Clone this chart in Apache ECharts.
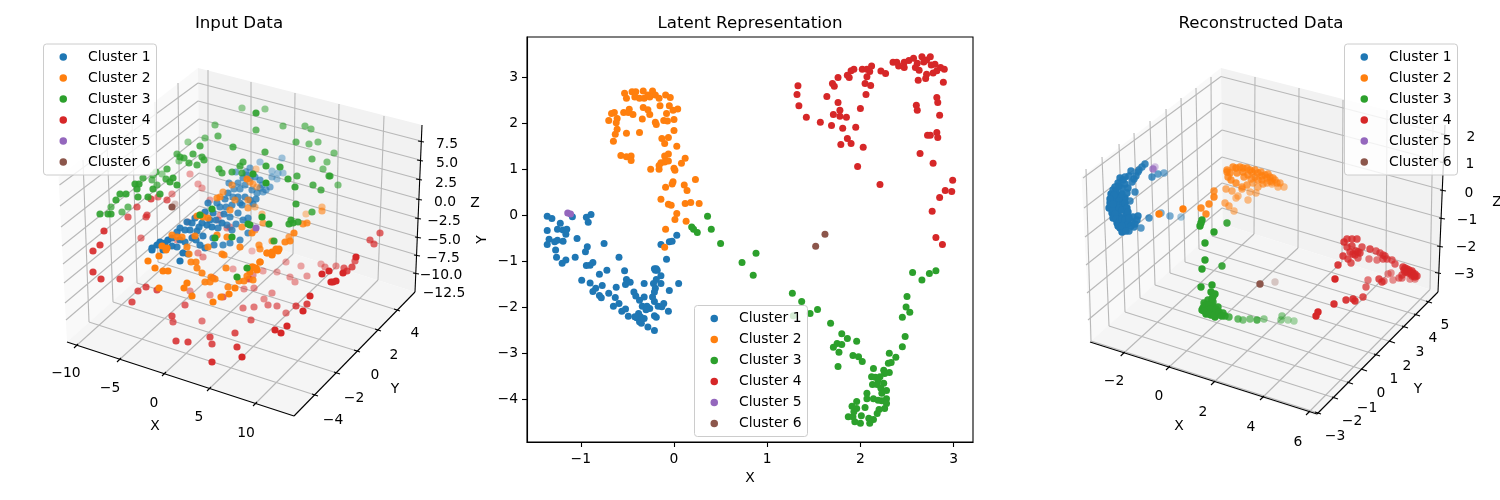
<!DOCTYPE html>
<html><head><meta charset="utf-8">
<style>html,body{margin:0;padding:0;background:#fff}#c{width:1500px;height:500px}</style>
<script src="https://cdn.jsdelivr.net/npm/echarts@6/dist/echarts.min.js"></script>
</head><body><div id="c"></div>
<script>
const clusterNames=['Cluster 1','Cluster 2','Cluster 3','Cluster 4','Cluster 5','Cluster 6'];
const clusterColors=['#1f77b4','#ff7f0e','#2ca02c','#d62728','#9467bd','#8c564b'];
const FONT='"DejaVu Sans"';

/* ---------- Latent Representation: x, y values ---------- */
const latent1=[[-1.36,-.02],[-1.31,-.07],[-1.09,-.03],[-.94,-.04],[-.89,.02],[-.92,-.15],[-1.22,-.17],[-1.25,-.3],[-1.36,-.33],[-1.19,-.32],[-1.15,-.3],[-1.16,-.41],[-1.04,-.5],[-1.34,-.52],[-1.36,-.63],[-1.28,-.57],[-1.25,-.54],[-1.19,-.56],[-.75,-.61],[-.93,-.68],[-.95,-.79],[-1.27,-.75],[-1.26,-.91],[-1.16,-.97],[-1.2,-1.04],[-1.06,-.91],[-.59,-.91],[-.87,-1.02],[-.9,-1.08],[-.94,-1.09],[-.72,-1.19],[-.53,-1.2],[-.19,-1.16],[-.21,-1.16],[-.14,-.63],[-.05,-.57],[-.02,-.56],[.03,-.43],[-.08,-.95],[-.99,-1.41],[-.9,-1.47],[-.8,-1.28],[-.77,-1.52],[-.84,-1.58],[-.87,-1.65],[-.8,-1.74],[-.78,-1.79],[-.7,-1.69],[-.62,-1.56],[-.63,-1.78],[-.59,-1.91],[-.65,-1.97],[-.56,-2.08],[-.52,-2.03],[-.49,-2.19],[-.51,-1.39],[-.52,-1.5],[-.47,-1.45],[-.43,-1.66],[-.41,-1.75],[-.32,-1.48],[-.32,-1.77],[-.37,-1.84],[-.34,-1.97],[-.29,-1.97],[-.26,-2.02],[-.3,-2.05],[-.38,-2.13],[-.4,-2.22],[-.37,-2.31],[-.35,-2.34],[-.28,-2.42],[-.21,-2.5],[-.21,-2.18],[-.19,-2.21],[-.23,-1.77],[-.21,-1.87],[-.22,-1.48],[-.2,-1.58],[-.21,-1.66],[-.19,-1.39],[-.14,-1.31],[-.14,-1.48],[-.2,-1.19],[-.18,-1.19],[-.05,-1.63],[.05,-1.48],[-.17,-1.97],[-.13,-1.98],[-.11,-1.91],[-.06,-2.08],[-.36,-2.2],[-.42,-2.2],[-.32,-2.24]];
const latent2=[[-.53,2.65],[-.51,2.54],[-.45,2.68],[-.41,2.68],[-.42,2.57],[-.37,2.54],[-.33,2.7],[-.32,2.54],[-.28,2.61],[-.23,2.7],[-.26,2.57],[-.2,2.61],[-.16,2.54],[-.09,2.61],[-.04,2.56],[-.15,2.38],[-.05,2.38],[.04,2.31],[-.01,2.28],[-.08,2.21],[-.33,2.34],[-.28,2.29],[-.26,2.19],[-.64,2.23],[-.67,2.21],[-.54,2.23],[-.48,2.3],[-.49,2.23],[-.44,2.19],[-.7,2.06],[-.61,2.1],[-.62,2.01],[-.34,2.09],[-.2,2.02],[-.19,1.97],[-.11,2.06],[-.07,2.05],[0,2.08],[-.61,1.87],[-.63,1.76],[-.65,1.61],[-.51,1.78],[-.37,1.8],[0,1.84],[-.13,1.67],[-.06,1.69],[-.1,1.56],[.03,1.5],[-.57,1.3],[-.51,1.27],[-.46,1.29],[-.46,1.19],[-.06,1.33],[-.1,1.29],[-.06,1.18],[-.1,1.16],[-.14,1.14],[-.25,1],[-.16,1],[-.16,1.08],[0,1.02],[.01,.98],[.12,1.24],[.08,1.13],[.23,.78],[-.01,.73],[-.02,.68],[-.09,.61],[.11,.66],[.14,.54],[-.14,.35],[-.06,.24],[-.03,.22],[.12,.26],[.18,.28],[.27,.26],[.03,.04],[.01,-.09],[.13,-.13],[-.09,-.3],[-.1,-.69]];
const latent3=[[.19,-.25],[.21,-.3],[.25,-.37],[.36,-.02],[.4,-.3],[.5,-.61],[.73,-1.02],[.88,-.82],[.85,-1.3],[1.27,-1.69],[1.37,-1.87],[1.46,-2.13],[1.54,-2.04],[1.28,-2.18],[1.68,-2.34],[1.8,-2.57],[1.86,-2.67],[1.96,-2.73],[1.75,-2.78],[1.8,-2.8],[1.71,-2.86],[1.77,-2.97],[1.76,-3.28],[1.92,-3.04],[1.98,-3.07],[2.02,-3.17],[2.14,-3.32],[2.12,-3.5],[2.16,-3.51],[2.25,-3.36],[2.31,-3.41],[2.26,-3.43],[2.21,-3.5],[2.19,-3.57],[2.13,-3.67],[2.18,-3.67],[2.25,-3.64],[2.22,-3.75],[2.28,-3.8],[2.23,-3.86],[2.28,-3.98],[2.23,-4.02],[2.28,-4.08],[2.26,-4.19],[2.2,-4.21],[2.18,-4.3],[2.14,-4.43],[2.1,-4.51],[2.09,-4.4],[2.01,-4.35],[2,-4.51],[1.94,-4.48],[1.92,-4.37],[1.87,-4.37],[1.93,-4.26],[1.96,-4.19],[1.91,-4.14],[1.96,-4.04],[2.05,-4.17],[2.07,-3.86],[2.07,-3.98],[2.14,-3.98],[2.19,-4.01],[2.31,-2.99],[2.38,-3.08],[2.3,-3.21],[2.33,-3.19],[2.45,-2.85],[2.48,-2.63],[2.45,-2.21],[2.53,-2.1],[2.49,-1.99],[2.5,-1.76],[2.56,-1.24],[2.66,-1.4],[2.74,-1.26],[2.81,-1.2]];
const latent4=[[1.33,2.81],[1.32,2.62],[1.34,2.38],[1.42,2.13],[1.57,2.02],[1.69,1.95],[1.81,1.89],[1.95,1.91],[1.71,2.19],[1.78,2.28],[1.78,2.15],[1.85,2.13],[1.76,2.45],[1.64,2.58],[2,2.32],[2.06,2.62],[1.7,2.86],[1.72,2.8],[1.76,2.99],[1.86,3.04],[1.88,2.99],[1.9,3.14],[1.93,3.17],[2.02,3.17],[2.07,3.17],[2.12,3.24],[2.1,3.12],[2.07,3.01],[2.05,2.86],[2.11,2.82],[2.22,3.13],[2.27,3.08],[2.35,3.32],[2.39,3.32],[2.41,3.24],[2.47,3.32],[2.47,3.21],[2.52,3.36],[2.57,3.41],[2.59,3.21],[2.61,3.3],[2.66,3.44],[2.68,3.33],[2.71,3.37],[2.75,3.44],[2.63,3.15],[2.76,3.26],[2.8,3.28],[2.78,3.09],[2.71,3.06],[2.7,2.97],[2.62,2.93],[2.86,3.21],[2.9,3.17],[2.82,3.14],[2.89,2.89],[2.82,2.56],[2.83,2.45],[2.85,2.17],[2.6,2.39],[2.61,2.28],[2.82,1.8],[2.72,1.74],[2.75,1.74],[2.83,1.69],[2.64,1.34],[2.78,1.13],[1.86,1.67],[1.79,1.54],[1.9,1.56],[2.03,1.48],[1.97,1.06],[2.21,.67],[2.99,.76],[2.91,.54],[2.98,.52],[2.85,.39],[2.77,.09],[2.81,-.48],[2.88,-.63]];
const latent5=[[-1.14,.05],[-1.11,.03]];
const latent6=[[1.62,-.41],[1.52,-.67]];
const latentXTicks=[-1,0,1,2,3];
const latentYTicks=[-4,-3,-2,-1,0,1,2,3];

/* ---------- Input Data: projected positions on the 3D view, with depth fade ---------- */
const input1=[[183,253,1],[180,261,1],[188,254,.9],[152,250,1],[247,175,.6],[243,178,.7],[240,189,.7],[234,189,.7],[245,185,.7],[228,193,.8],[245,197,.8],[225,199,.8],[242,205,.8],[220,207,.8],[217,203,.8],[205,212,.9],[213,213,.9],[230,217,.8],[222,223,.9],[227,225,.8],[238,213,.8],[248,218,.8],[207,225,.9],[212,227,.9],[202,223,.9],[187,222,.9],[192,223,.9],[185,230,.9],[180,228,.9],[177,232,.9],[168,240,1],[165,243,1],[160,242,1],[157,245,1],[152,248,1],[192,238,.9],[200,245,.9],[205,248,.9],[185,242,.9],[177,247,.9],[223,245,.8],[232,230,.8],[240,240,.8],[248,233,.8],[260,162,.4],[282,158,.4],[272,171,.4],[278,173,.4],[283,173,.4],[272,177,.5],[277,179,.4],[250,168,.6],[255,177,.7],[260,180,.7],[262,185,.6],[270,187,.6],[266,190,.6],[263,192,.6],[260,188,.6],[250,200,.8],[256,199,.8],[253,204,.8],[236,172,.6],[229,183,.7],[238,197,.8],[232,205,.8],[224,214,.85],[216,220,.85],[197,231,.9],[203,236,.9],[213,238,.85],[172,246,.95],[195,218,.9],[208,203,.85],[246,172,.6],[250,178,.6],[238,183,.7],[233,197,.75],[240,203,.8],[226,207,.8],[210,220,.9],[199,227,.9],[218,228,.85],[190,230,.9],[196,240,.9],[172,238,.95],[180,240,.95],[163,250,1],[236,224,.8],[243,220,.8],[214,245,.85],[230,243,.8],[257,193,.7],[252,190,.7]];
const input2=[[256,169,.4],[253,184,.6],[257,187,.5],[255,207,.5],[262,214,.5],[263,223,.7],[322,207,.5],[322,211,.6],[306,214,.4],[303,224,.8],[307,223,.8],[294,233,.9],[289,237,.7],[290,241,.9],[285,242,.9],[272,241,.7],[255,230,.7],[252,233,.9],[259,245,.8],[260,249,.8],[267,253,.9],[272,252,1],[272,255,1],[279,249,1],[276,249,1],[260,262,1],[252,267,1],[257,270,1],[250,272,1],[247,179,.9],[250,182,.6],[232,185,.7],[235,200,.7],[217,198,.8],[223,192,.7],[230,210,.8],[200,215,.9],[197,216,.9],[208,218,.9],[203,217,.9],[242,227,.8],[248,200,.7],[248,208,.7],[227,237,.9],[217,235,.9],[208,247,.9],[187,247,.9],[177,237,.9],[172,235,.9],[182,237,.9],[162,246,1],[167,248,1],[195,236,.9],[240,247,.9],[220,197,.8],[148,261,1],[159,256,1],[155,268,1],[163,271,1],[168,271,1],[189,254,.9],[191,262,.9],[196,262,.9],[197,268,.9],[202,273,.9],[166,250,1],[159,288,1],[184,288,1],[187,283,1],[192,296,1],[205,282,.9],[211,277,.9],[210,282,.9],[215,279,.9],[226,268,.9],[213,302,1],[221,297,1],[229,294,1],[228,287,.9],[235,288,1],[239,281,.9],[244,281,.9],[247,276,.9],[253,267,1],[256,268,1],[260,262,1],[222,254,.9],[224,255,.9],[267,253,.9],[272,254,1],[278,251,1],[253,280,.9]];
const input3=[[242,108,.5],[215,125,.6],[218,136,.7],[205,138,.6],[188,142,.5],[200,146,.8],[233,147,.8],[177,154,.7],[180,157,.8],[193,154,.8],[202,157,.8],[204,160,.8],[179,161,.5],[184,158,.8],[189,163,.8],[197,165,.8],[167,169,.8],[156,172,.8],[153,175,.7],[162,174,.5],[219,169,.8],[222,173,.8],[232,172,.8],[240,166,.8],[243,162,.8],[242,173,.8],[143,178,.8],[152,180,.7],[166,179,.8],[173,178,.9],[170,182,.9],[177,185,.9],[135,184,.9],[139,184,.9],[137,189,.9],[153,189,.9],[157,185,.7],[120,194,.9],[126,194,.9],[160,194,.9],[148,197,.9],[138,197,.9],[116,200,.9],[111,207,.7],[128,207,.7],[100,214,.9],[108,214,.9],[111,214,.9],[122,212,.7],[200,215,1],[212,209,1],[232,237,1],[215,238,1],[248,224,1],[265,109,.5],[256,113,.9],[283,126,.6],[305,126,.6],[311,129,.6],[256,130,.7],[296,142,.7],[309,144,.6],[318,142,.6],[334,153,.6],[265,152,.8],[312,159,.7],[327,162,.6],[323,169,.6],[329,176,.8],[330,176,.8],[338,185,.6],[266,166,.9],[280,167,.9],[253,174,1],[266,183,1],[288,179,.9],[297,176,.8],[295,187,.9],[313,185,.8],[321,190,.8],[296,204,.9],[312,212,.8],[262,217,1],[269,224,1],[291,220,.9],[289,224,.9],[293,223,.9],[298,222,.9],[274,241,.9],[250,225,1],[237,277,1],[247,268,1]];
const input4=[[190,174,.4],[198,184,.4],[202,188,.4],[172,194,.5],[151,199,.8],[158,197,.6],[167,200,.7],[137,207,.7],[146,217,.7],[147,215,.7],[128,217,.7],[104,231,.9],[141,238,.6],[100,245,.9],[93,251,.9],[210,200,.4],[220,215,.4],[188,222,.5],[218,220,.5],[227,228,.5],[230,227,.5],[177,240,.5],[193,237,.5],[93,272,.9],[101,279,.9],[120,279,.8],[138,291,.8],[146,287,.8],[157,290,.8],[132,302,.8],[185,305,.7],[190,291,.5],[203,257,.5],[198,253,.5],[213,278,.7],[210,295,.5],[223,297,.7],[172,316,.8],[173,322,.7],[202,321,.6],[176,341,.85],[188,342,.85],[210,337,.8],[212,344,.8],[235,333,.8],[237,347,.9],[242,357,1],[212,362,.95],[243,308,.6],[254,307,.6],[251,320,.7],[244,289,.5],[254,288,.5],[249,279,.8],[253,275,.5],[233,269,.4],[263,271,.4],[277,272,.4],[286,262,.4],[252,251,.3],[272,293,.5],[264,299,.5],[268,305,.6],[277,306,.6],[286,313,.6],[275,330,1],[281,333,1],[287,326,1],[296,306,.8],[307,304,.85],[303,311,1],[310,296,1],[290,277,.45],[295,282,.45],[307,276,.45],[301,266,.4],[321,264,.4],[325,267,.5],[336,266,.5],[322,274,1],[329,271,1],[331,282,1],[333,282,1],[336,281,1],[343,273,1],[344,268,.7],[347,271,.8],[352,267,.8],[355,261,.7],[356,257,1],[380,233,.7],[370,240,.7],[374,244,.7]];
const input5=[[256,228,1]];
const input6=[[175,204,.35],[172,207,1]];

/* ---------- Reconstructed Data: projected positions on the 3D view, with depth fade ---------- */
const recon1=[[1145,164,.85],[1142,167,.85],[1138,172,.85],[1131,171,.9],[1136,176,.9],[1125,177,.9],[1120,178,.95],[1132,182,.9],[1123,180,.95],[1118,183,.95],[1115,187,.95],[1113,190,.95],[1122,188,.95],[1128,188,.95],[1135,192,.85],[1112,198,1],[1117,195,1],[1125,198,1],[1130,201,.85],[1110,203,1],[1120,202,1],[1109,208,1],[1115,207,1],[1123,205,1],[1112,213,1],[1118,212,1],[1113,218,1],[1120,217,1],[1126,215,1],[1133,217,.95],[1138,216,.95],[1117,223,1],[1123,222,1],[1132,222,.95],[1137,220,.95],[1120,228,1],[1125,227,1],[1122,232,1],[1129,231,.9],[1134,227,.9],[1141,228,.75],[1152,177,.8],[1158,174,.7],[1164,173,.6],[1149,218,.8],[1161,213,.6],[1170,216,.6],[1181,217,.4],[1111,205,1],[1113,209,1],[1116,203,1],[1119,208,1],[1122,210,1],[1125,203,1],[1127,208,1],[1128,212,1],[1115,214,1],[1116,219,1],[1119,222,1],[1122,219,1],[1125,220,1],[1128,224,1],[1131,226,.95],[1118,226,1],[1122,226,1],[1126,231,1],[1114,200,1],[1119,198,1],[1122,194,1],[1127,193,.95],[1116,191,1],[1119,186,1],[1125,184,.95],[1129,176,.9],[1134,179,.9],[1139,170,.85],[1111,194,1],[1114,195,1],[1110,199,1],[1113,204,1],[1129,218,1],[1135,224,.95]];
const recon2=[[1159,214,1],[1183,209,1],[1201,208,.9],[1209,204,.9],[1206,214,.9],[1214,197,.9],[1214,191,.8],[1226,189,.6],[1232,191,.6],[1225,203,.6],[1229,206,.6],[1234,211,.5],[1236,198,.5],[1238,196,.5],[1248,200,.5],[1242,189,.6],[1227,170,.8],[1233,167,.8],[1240,167,.8],[1247,168,.8],[1252,172,.75],[1258,173,.75],[1265,175,.7],[1270,177,.7],[1275,180,.65],[1280,183,.6],[1284,187,.5],[1278,187,.5],[1272,184,.5],[1267,183,.6],[1258,187,.6],[1253,183,.6],[1247,185,.7],[1242,187,.7],[1236,183,.8],[1231,180,.8],[1227,172,.8],[1230,173,.8],[1237,173,.8],[1243,172,.8],[1248,175,.75],[1255,177,.75],[1262,180,.7],[1267,178,.7],[1250,192,.5],[1256,193,.5],[1272,182,.6],[1243,168,.8],[1236,168,.8],[1250,170,.8],[1255,170,.75],[1261,172,.75],[1262,176,.75],[1268,174,.7],[1273,178,.7],[1277,183,.65],[1270,181,.65],[1263,184,.65],[1258,180,.7],[1251,179,.7],[1244,177,.75],[1228,177,.8]];
const recon3=[[1202,220,1],[1201,223,1],[1200,226,1],[1227,223,.9],[1214,232,1],[1205,243,1],[1205,260,1],[1202,269,1],[1222,266,.9],[1201,287,1],[1212,285,1],[1211,292,1],[1215,294,1],[1204,303,.95],[1208,300,.95],[1213,302,.95],[1218,307,.95],[1203,308,1],[1208,307,1],[1213,308,1],[1202,310,1],[1207,312,1],[1212,312,1],[1217,312,1],[1206,314,1],[1211,315,1],[1215,317,1],[1220,315,.95],[1225,316,.9],[1229,317,.8],[1238,319,.7],[1243,320,.6],[1250,319,.6],[1257,320,.8],[1264,319,.5],[1282,316,.5],[1281,320,.5],[1288,320,.4],[1294,321,.4],[1212,305,1],[1205,305,1],[1223,313,.95],[1209,304,1],[1210,309,1],[1204,311,1],[1209,314,1],[1214,315,1],[1216,309,1],[1213,297,1],[1212,299,1],[1219,312,.95],[1222,316,.95]];
const recon4=[[1318,312,1],[1316,316,1],[1334,304,.95],[1346,300,.9],[1353,299,.9],[1355,301,.9],[1363,297,.8],[1335,279,1],[1338,265,.9],[1343,256,.85],[1351,263,.75],[1344,242,.85],[1347,239,.8],[1352,239,.8],[1357,239,.8],[1347,247,.8],[1350,252,.8],[1356,251,.8],[1362,247,.75],[1358,258,.7],[1348,259,.8],[1355,255,.8],[1360,253,.8],[1370,249,.8],[1376,251,.7],[1380,253,.7],[1383,255,.7],[1369,259,.6],[1377,260,.6],[1383,259,.7],[1387,259,.7],[1392,260,.7],[1395,264,.7],[1368,280,.6],[1366,287,.7],[1379,279,.8],[1382,282,.8],[1384,281,.6],[1388,274,.5],[1391,273,.5],[1393,280,.5],[1399,278,.6],[1402,278,.6],[1410,279,.5],[1415,279,.5],[1403,267,.8],[1407,269,.8],[1410,272,.8],[1413,273,.8],[1417,276,.8],[1405,272,.8],[1408,273,.7],[1412,276,.7],[1402,275,.7],[1415,277,.7],[1405,268,.8],[1409,270,.8],[1412,271,.8],[1415,274,.8],[1404,270,.8],[1407,272,.8],[1411,274,.8],[1414,276,.8],[1385,256,.7],[1353,254,.8],[1358,252,.8],[1352,246,.8]];
const recon5=[[1155,167,.4],[1153,169,.8]];
const recon6=[[1275,282,.3],[1260,284,1]];

/* ---------- 3D frame geometry ---------- */
const OFF=1023;
const wallPolys=[[198,68,199.5,224,67,342,58.5,177],[198,68,422,125,415,292,199.5,224],[67,342,294,416,415,292,199.5,224]];
const wallFills=['#f9f9f9','#f2f2f2','#f5f5f5'];
const gridInput=[
 [208,70,208,227],[251,82,251,240],[295,93,293,254],[339,104,336,267],[384,116,378,280],
 [76,346,208,227],[119,360,251,240],[164,374,293,254],[209,389,336,267],[255,404,378,280],
 [83,160,89,322],[107,142,113,302],[132,121,137,283],[155,102,158,262],[178,83,180,242],
 [315,395,89,322],[337,373,113,302],[357,351,137,283],[378,330,158,262],[397,310,180,242],
 [421,141,198,83],[420,160,198,101],[419,179,199,119],[419,199,199,137],[418,218,199,155],[418,237,199,173],[417,255,199,190],[416,273,199,206],
 [198,83,59.5,185],[198,101,60,206],[199,119,61,227],[199,137,62,246],[199,155,63,264],[199,173,64,283],[199,190,65,303],[199,206,66,320]];
const gridRecon=[
 [1255,77,1254,234],[1299,88,1298,248],[1343,100,1342,262],[1387,110,1386,276],[1433,123,1430,289.5],
 [1122.7,354,1254,234],[1168,368,1298,248],[1213,383,1342,262],[1262,398,1386,276],[1308,413,1430,289.5],
 [1086,169,1091,341],[1102,157,1109,326],[1119,144,1125,312],[1134,133,1140,298],[1150,121,1155,285],[1166,109,1170,273],[1181,98,1185,262],[1196,88,1199,249],[1211,77,1212,236],
 [1318,413,1091,341],[1335,398,1109,326],[1350,383,1125,312],[1364,370,1140,298],[1377,355,1155,285],[1392,342,1170,273],[1405,327,1185,262],[1417,315,1199,249],[1429,302,1212,236],
 [1444,134,1221,76.5],[1443,162,1221,103],[1443,190,1222,130],[1442,218,1222,157],[1440,246,1222,183],[1438,272.5,1222,208],
 [1221,76.5,1083,178],[1221,103,1084,208],[1222,130,1085,237],[1222,157,1086,265],[1222,183,1087,293],[1222,208,1088,320]];
const axisInput=[[67,342,294,416],[294,416,415,292],[415,292,422,125],
 [74,348,78,344],[117,362,121,358],[162,376,166,372],[207,391,211,387],[253,406,257,402],
 [312,394,318,396],[334,372,340,374],[354,350,360,352],[375,329,381,331],[394,309,400,311],
 [418,141,424,142],[417,160,423,161],[416,179,422,180],[416,199,422,200],[415,218,421,219],[415,237,421,238],[414,255,420,256],[413,273,419,274]];
const axisRecon=[[1090,342,1317,414],[1317,414,1438,292],[1438,292,1445,125],
 [1120.7,356,1124.7,352],[1166,370,1170,366],[1211,385,1215,381],[1260,400,1264,396],[1306,415,1310,411],
 [1315,412,1321,414],[1332,397,1338,399],[1347,382,1353,384],[1361,369,1367,371],[1374,354,1380,356],[1389,341,1395,343],[1402,326,1408,328],[1414,314,1420,316],[1426,301,1432,303],
 [1441,134,1447,135],[1440,162,1446,163],[1440,190,1446,191],[1439,218,1445,219],[1437,246,1443,247],[1435,272.5,1441,273.5]];
const textInput=[['−10',66,373],['−5',110,388],['0',154,403],['5',199,417],['10',246,433],['X',155,426],
 ['−4',333,420],['−2',354,398],['0',375,375],['2',394,355],['4',415,333],['Y',395,389],
 ['7.5',447,144],['5.0',447,163],['2.5',446,183],['0.0',445,202],['−2.5',444,221],['−5.0',444,240],['−7.5',443,258],['−10.0',441,275],['−12.5',444,293],['Z',475,203]];
const textRecon=[['−2',1114,381],['0',1159,396],['2',1203,412],['4',1251,427],['6',1298,442],['X',1179,426],
 ['−3',1335,436],['−2',1352,421],['−1',1367,408],['0',1381,393],['1',1394,379],['2',1407,366],['3',1420,352],['4',1433,338],['5',1445,325],['Y',1418,389],
 ['2',1471,137],['1',1470,164],['0',1469,193],['−1',1467,220],['−2',1466,247],['−3',1464,274],['Z',1497,202]];

function wallSeries(polys,ax){return {type:'custom',xAxisIndex:ax,yAxisIndex:ax,z:1,silent:true,
 encode:{x:[0,2,4,6],y:[1,3,5,7]},data:polys,
 renderItem:(p,api)=>{const pts=[];for(let i=0;i<4;i++)pts.push(api.coord([api.value(2*i),api.value(2*i+1)]));
  return {type:'polygon',shape:{points:pts},style:{fill:wallFills[p.dataIndex],stroke:null}};}};}
function lineSeries(rows,ax,color,z){return {type:'custom',xAxisIndex:ax,yAxisIndex:ax,z:z,silent:true,
 encode:{x:[0,2],y:[1,3]},data:rows,
 renderItem:(p,api)=>{const a=api.coord([api.value(0),api.value(1)]),b=api.coord([api.value(2),api.value(3)]);
  return {type:'line',shape:{x1:a[0],y1:a[1],x2:b[0],y2:b[1]},style:{stroke:color,lineWidth:1.1,fill:null}};}};}
function textSeries(rows,ax){return {type:'custom',xAxisIndex:ax,yAxisIndex:ax,z:1,silent:true,
 encode:{x:0,y:1},data:rows.map(r=>[r[1],r[2]]),
 renderItem:(p,api)=>{const c=api.coord([api.value(0),api.value(1)]);
  return {type:'text',x:c[0],y:c[1],style:{text:rows[p.dataIndex][0],font:'13.89px '+FONT,fill:'#000',textAlign:'center',textVerticalAlign:'middle'}};}};}
function pointSeries(i,rows,ax,size){return {type:'scatter',name:clusterNames[i],xAxisIndex:ax,yAxisIndex:ax,z:2,
 symbol:'circle',symbolSize:size,itemStyle:{color:clusterColors[i],opacity:1},silent:true,
 data:rows.map(r=>r.length>2?{value:[r[0],r[1]],itemStyle:{opacity:r[2]}}:r)};}
function legendAt(left,top){return {left:left,top:top,orient:'vertical',icon:'circle',itemWidth:7.5,itemHeight:7.5,itemGap:7,
 padding:[6,6,6,16],backgroundColor:'rgba(255,255,255,0.8)',borderColor:'#ccc',borderWidth:1,borderRadius:3,
 selectedMode:false,z:5,textStyle:{fontFamily:FONT,fontSize:13.89,color:'#000',lineHeight:14,padding:[0,0,0,16]},
 data:clusterNames};}
const hidden=(lo,hi,inv)=>({type:'value',min:lo,max:hi,show:false,inverse:!!inv});
const minus=v=>String(v).replace('-','−');
const axisText={color:'#000',fontFamily:FONT,fontSize:13.89};
const axisNameStyle={color:'#000',fontFamily:FONT,fontSize:13.89};

const chart=echarts.init(document.getElementById('c'),null,{renderer:'canvas'});
const series=[
 wallSeries(wallPolys,0),lineSeries(gridInput,0,'#b8b8b8',1),lineSeries(axisInput,0,'#000',1),textSeries(textInput,0),
 wallSeries(wallPolys.map(p=>p.map((v,i)=>i%2?v:v+OFF)),2),lineSeries(gridRecon,2,'#b8b8b8',1),lineSeries(axisRecon,2,'#000',1),textSeries(textRecon,2)
];
[input4,input1,input2,input3,input5,input6].forEach((r,k)=>series.push(pointSeries([3,0,1,2,4,5][k],r,0,7.2)));
[latent1,latent2,latent3,latent4,latent5,latent6].forEach((r,k)=>series.push(pointSeries(k,r,1,7)));
[recon1,recon2,recon3,recon4,recon5,recon6].forEach((r,k)=>series.push(pointSeries(k,r,2,7.4)));

chart.setOption({
 animation:false,backgroundColor:'#fff',tooltip:{show:false},
 title:[['Input Data',239],['Latent Representation',750],['Reconstructed Data',1261]].map(t=>({text:t[0],left:t[1],top:15,textAlign:'center',padding:0,
   textStyle:{fontFamily:FONT,fontSize:16.67,fontWeight:'normal',color:'#000'}})),
 legend:[legendAt(43.5,44),legendAt(694.5,305.5),legendAt(1344.5,44)],
 grid:[{left:0,top:0,width:500,height:500},
  {left:527,top:37,width:446,height:405,show:true,borderColor:'#000',borderWidth:1.1,backgroundColor:'transparent'},
  {left:1000,top:0,width:500,height:500}],
 xAxis:[hidden(0,500),
  {type:'value',gridIndex:1,min:-1.577,max:3.208,name:'X',nameLocation:'middle',nameGap:29,nameTextStyle:axisNameStyle,
   axisLine:{show:true,onZero:false,lineStyle:{color:'#000',width:1.1}},splitLine:{show:false},
   axisTick:{show:true,length:5,lineStyle:{color:'#000',width:1.1},customValues:latentXTicks},
   axisLabel:{...axisText,margin:10,formatter:minus,customValues:latentXTicks}},
  {...hidden(1000,1500),gridIndex:2}],
 yAxis:[hidden(0,500,true),
  {type:'value',gridIndex:1,min:-4.917,max:3.87,name:'Y',nameLocation:'middle',nameGap:38,nameTextStyle:axisNameStyle,
   axisLine:{show:true,onZero:false,lineStyle:{color:'#000',width:1.1}},splitLine:{show:false},
   axisTick:{show:true,length:5,lineStyle:{color:'#000',width:1.1},customValues:latentYTicks},
   axisLabel:{...axisText,margin:9,formatter:minus,customValues:latentYTicks}},
  {...hidden(0,500,true),gridIndex:2}],
 series:series
});
</script></body></html>
